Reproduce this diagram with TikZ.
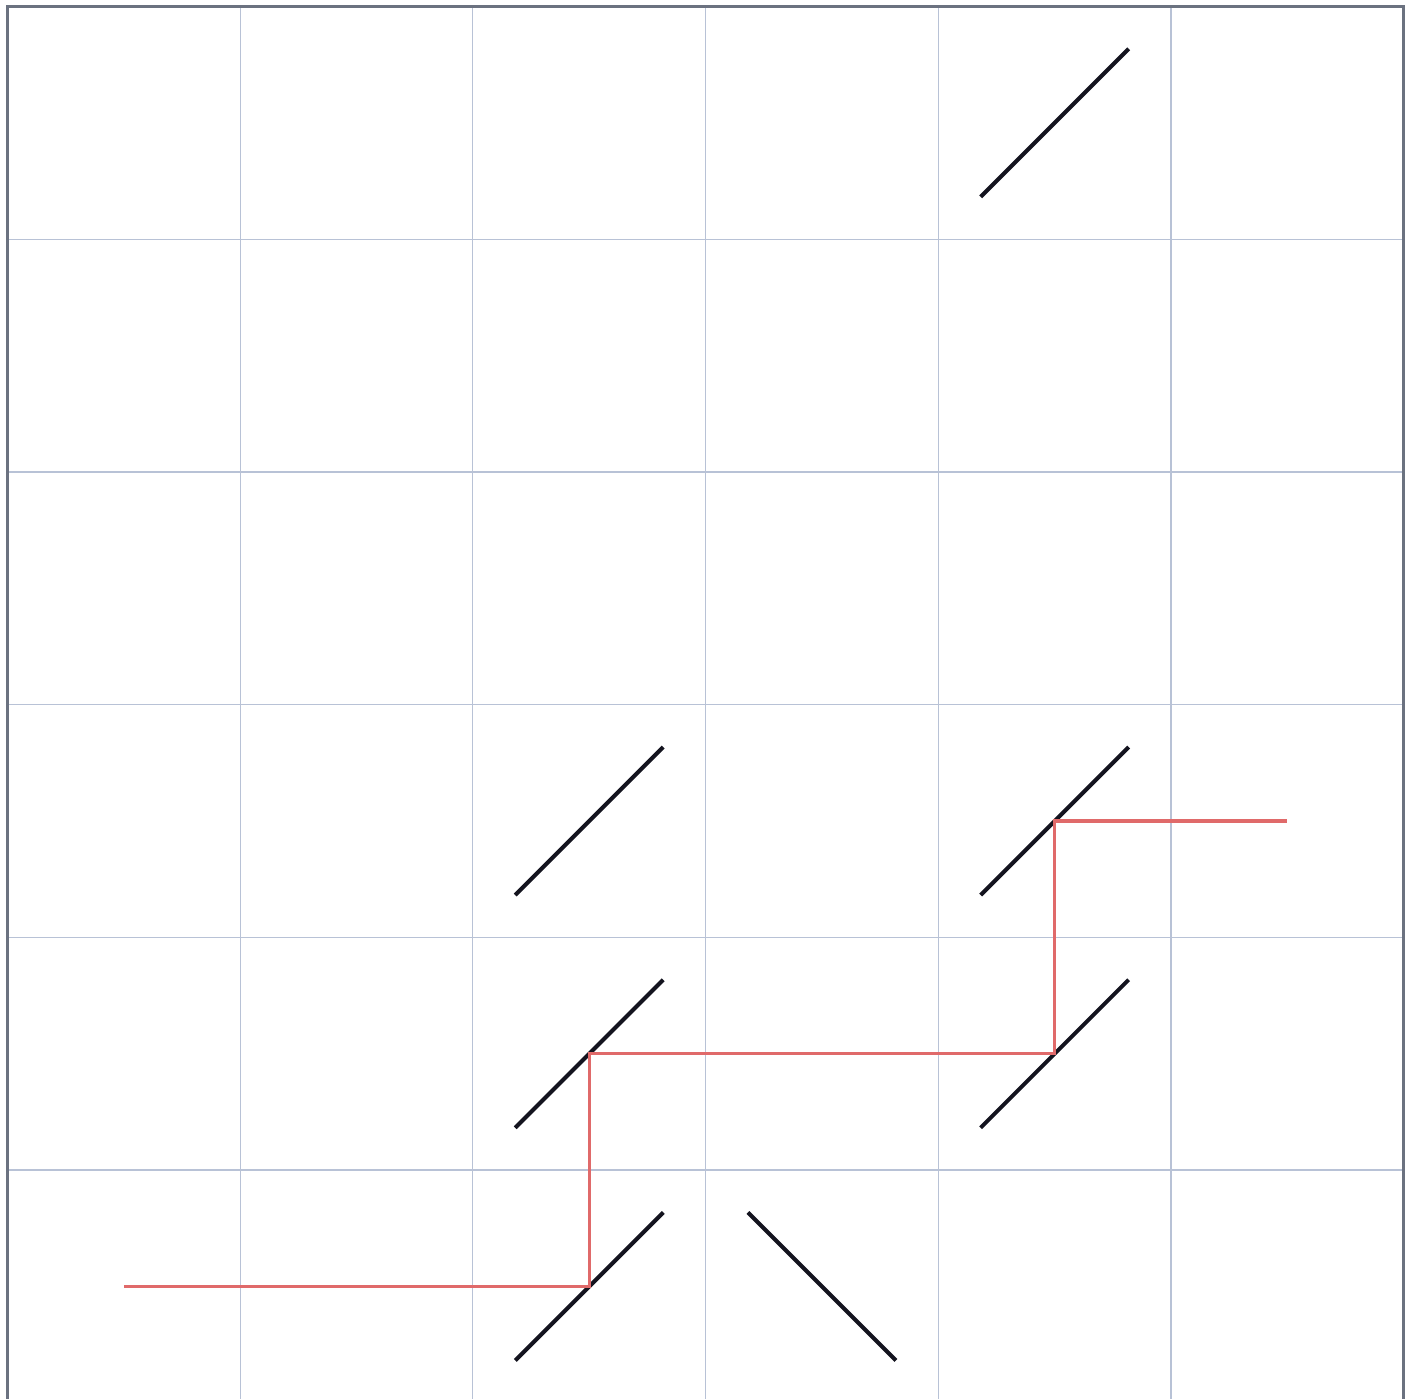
\documentclass[tikz,border=0pt]{standalone}
\usetikzlibrary{positioning}

\definecolor{gridline}{HTML}{B8C2D6}
\definecolor{framegray}{HTML}{6B7280}
\definecolor{mirrorblack}{HTML}{14141F}
\definecolor{laserred}{HTML}{E06A6A}

\begin{document}
\begin{tikzpicture}[
    x=2.3267cm, y=-2.3267cm,
    gridln/.style={draw=gridline, line width=0.35pt},
    frame/.style={draw=framegray, line width=0.9pt},
    mirror/.style={draw=mirrorblack, line width=1.15pt},
    laser/.style={draw=laserred, line width=0.9pt}
  ]
    \useasboundingbox (-0.032,-0.028) rectangle (6.040,5.981);
    \foreach \i in {1,...,5} {
      \draw[gridln] (\i,0) -- (\i,6);
      \draw[gridln] (0,\i) -- (6,\i);
    }
    \draw[frame] (0,0) rectangle (6,6);

    % mirrors
    \foreach \c/\r in {4/0, 2/3, 4/3, 2/4, 4/4, 2/5}
      \draw[mirror] (\c+0.182,\r+0.818) -- (\c+0.818,\r+0.182);
    \draw[mirror] (3.182,5.182) -- (3.818,5.818);

    % laser path
    \coordinate (src) at (0.5,5.5);
    \coordinate (hitA) at (2.5,5.5);
    \coordinate (hitB) at (2.5,4.5);
    \coordinate (hitC) at (4.5,4.5);
    \coordinate (hitD) at (4.5,3.5);
    \coordinate (dst) at (5.5,3.5);
    \draw[laser] (src) -- (hitA) -- (hitB) -- (hitC) -- (hitD) -- (dst);
  \end{tikzpicture}
\end{document}
